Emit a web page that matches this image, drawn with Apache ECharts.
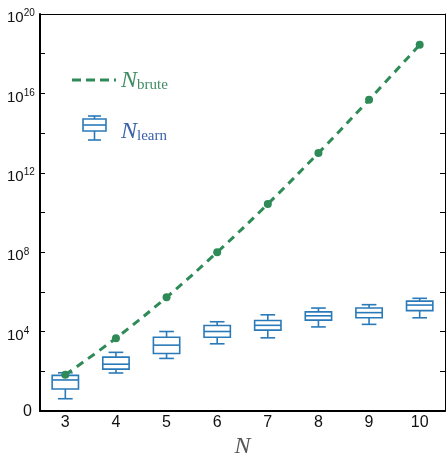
<!DOCTYPE html>
<html>
<head>
<meta charset="utf-8">
<script src="https://cdn.jsdelivr.net/npm/echarts@6/dist/echarts.min.js"></script>
<style>html,body{margin:0;padding:0;background:#fff;}#c{width:447px;height:464px;}</style>
</head>
<body>
<div id="c"></div>
<script>
var categories = ['3', '4', '5', '6', '7', '8', '9', '10'];
var bruteValues = [68, 4700, 5.4e5, 1.0e8, 2.7e10, 1.0e13, 4.8e15, 2.8e18];
// [min, Q1, median, Q3, max]
var learnBoxes = [
  [4.2, 13, 37, 63, 85],
  [83, 130, 230, 525, 910],
  [450, 800, 2100, 5200, 10200],
  [2450, 5200, 10200, 20400, 31600],
  [4900, 12000, 20900, 36300, 70800],
  [17400, 38000, 63000, 100000, 155000],
  [23400, 50000, 91000, 155000, 229000],
  [50000, 115000, 219000, 347000, 479000]
];
var yTickExponents = [0, 4, 8, 12, 16, 20];

var GREEN = '#2e8b57';
var BLUE = '#2a7ab9';

var boxData = learnBoxes.map(function (b, i) { return [i].concat(b); });

function renderBox(params, api) {
  var i = api.value(0);
  var lo = api.coord([i, api.value(1)]);
  var q1 = api.coord([i, api.value(2)]);
  var med = api.coord([i, api.value(3)]);
  var q3 = api.coord([i, api.value(4)]);
  var hi = api.coord([i, api.value(5)]);
  var band = api.size([1, 1])[0];
  var bw = band * 0.52, cw = band * 0.29;
  var cx = lo[0];
  var st = { stroke: BLUE, fill: 'none', lineWidth: 1.6 };
  return {
    type: 'group',
    children: [
      { type: 'rect', shape: { x: cx - bw / 2, y: q3[1], width: bw, height: q1[1] - q3[1] }, style: st },
      { type: 'line', shape: { x1: cx - bw / 2, y1: med[1], x2: cx + bw / 2, y2: med[1] }, style: st },
      { type: 'line', shape: { x1: cx, y1: q3[1], x2: cx, y2: hi[1] }, style: st },
      { type: 'line', shape: { x1: cx - cw / 2, y1: hi[1], x2: cx + cw / 2, y2: hi[1] }, style: st },
      { type: 'line', shape: { x1: cx, y1: q1[1], x2: cx, y2: lo[1] }, style: st },
      { type: 'line', shape: { x1: cx - cw / 2, y1: lo[1], x2: cx + cw / 2, y2: lo[1] }, style: st }
    ]
  };
}

function yLabel(v) {
  var e = Math.round(Math.log10(v));
  if (yTickExponents.indexOf(e) < 0) return '';
  if (e === 0) return '{z|0}';
  return '{b|10}{s|' + e + '}';
}

var chart = echarts.init(document.getElementById('c'));
chart.setOption({
  animation: false,
  backgroundColor: '#fff',
  grid: { left: 40, right: 2, top: 14, bottom: 43 },
  xAxis: [{
    type: 'category', data: categories, position: 'bottom', boundaryGap: true,
    axisLine: { lineStyle: { color: '#000', width: 2 } },
    axisTick: { inside: true, length: 4, alignWithLabel: true, lineStyle: { color: '#000', width: 1 } },
    axisLabel: { color: '#111', fontSize: 16, fontFamily: 'Liberation Sans, Arial', margin: 3 },
    splitLine: { show: false },
    name: 'N', nameLocation: 'middle', nameGap: 19,
    nameTextStyle: { fontFamily: 'Liberation Serif, DejaVu Serif', fontStyle: 'italic', fontSize: 24, color: '#555' }
  }, {
    type: 'category', data: categories, position: 'top', boundaryGap: true,
    axisLine: { lineStyle: { color: '#000', width: 1 } },
    axisTick: { inside: true, length: 4, alignWithLabel: true, lineStyle: { color: '#000', width: 1 } },
    axisLabel: { show: false }, splitLine: { show: false }
  }],
  yAxis: [{
    type: 'log', logBase: 10, min: 1, max: 1e20, interval: 2, position: 'left',
    axisLine: { show: true, lineStyle: { color: '#000', width: 2 } },
    axisTick: { show: true, inside: true, length: 5, lineStyle: { color: '#000', width: 1 } },
    splitLine: { show: false },
    axisLabel: {
      formatter: yLabel, align: 'left', margin: 33,
      rich: {
        b: { fontSize: 15, fontFamily: 'Liberation Sans, Arial', color: '#111', padding: [8, 0, 0, 0] },
        s: { fontSize: 10, fontFamily: 'Liberation Sans, Arial', color: '#111', verticalAlign: 'top', padding: [6, 0, 0, 0] },
        z: { fontSize: 16, fontFamily: 'Liberation Sans, Arial', color: '#111', width: 25, align: 'right' }
      }
    }
  }, {
    type: 'log', logBase: 10, min: 1, max: 1e20, interval: 2, position: 'right',
    axisLine: { show: true, lineStyle: { color: '#000', width: 1 } },
    axisTick: { show: true, inside: true, length: 5, lineStyle: { color: '#000', width: 1 } },
    splitLine: { show: false }, axisLabel: { show: false }
  }],
  series: [{
    type: 'custom', name: 'N_learn', xAxisIndex: 0, yAxisIndex: 0,
    renderItem: renderBox, data: boxData,
    encode: { x: 0, y: [1, 2, 3, 4, 5] }, z: 2
  }, {
    type: 'line', name: 'N_brute', xAxisIndex: 0, yAxisIndex: 0,
    data: bruteValues, smooth: 0.35,
    symbol: 'circle', symbolSize: 8, showSymbol: true,
    lineStyle: { color: GREEN, width: 3, type: [8, 6] },
    itemStyle: { color: GREEN }, z: 3
  }],
  graphic: [
    { type: 'line', shape: { x1: 72, y1: 80, x2: 116, y2: 80 }, style: { stroke: GREEN, lineWidth: 3, lineDash: [9, 5] } },
    { type: 'text', x: 121, y: 68, style: {
        text: '{n|N}{sub|brute}',
        rich: {
          n: { fontFamily: 'Liberation Serif, DejaVu Serif', fontStyle: 'italic', fontSize: 24, fill: '#3f8c62' },
          sub: { fontFamily: 'Liberation Serif, DejaVu Serif', fontSize: 15, fill: '#3f8c62', padding: [10, 0, 0, 0] }
        } } },
    { type: 'rect', shape: { x: 83, y: 119, width: 23, height: 12 }, style: { stroke: BLUE, fill: 'none', lineWidth: 1.6 } },
    { type: 'line', shape: { x1: 83, y1: 125, x2: 106, y2: 125 }, style: { stroke: BLUE, lineWidth: 1.6 } },
    { type: 'line', shape: { x1: 94.5, y1: 116, x2: 94.5, y2: 119 }, style: { stroke: BLUE, lineWidth: 1.6 } },
    { type: 'line', shape: { x1: 88, y1: 116, x2: 101, y2: 116 }, style: { stroke: BLUE, lineWidth: 1.6 } },
    { type: 'line', shape: { x1: 94.5, y1: 131, x2: 94.5, y2: 140 }, style: { stroke: BLUE, lineWidth: 1.6 } },
    { type: 'line', shape: { x1: 88, y1: 140, x2: 101, y2: 140 }, style: { stroke: BLUE, lineWidth: 1.6 } },
    { type: 'text', x: 121, y: 119, style: {
        text: '{n|N}{sub|learn}',
        rich: {
          n: { fontFamily: 'Liberation Serif, DejaVu Serif', fontStyle: 'italic', fontSize: 24, fill: '#3a62a8' },
          sub: { fontFamily: 'Liberation Serif, DejaVu Serif', fontSize: 15, fill: '#3a62a8', padding: [10, 0, 0, 0] }
        } } }
  ]
});
</script>
</body>
</html>
